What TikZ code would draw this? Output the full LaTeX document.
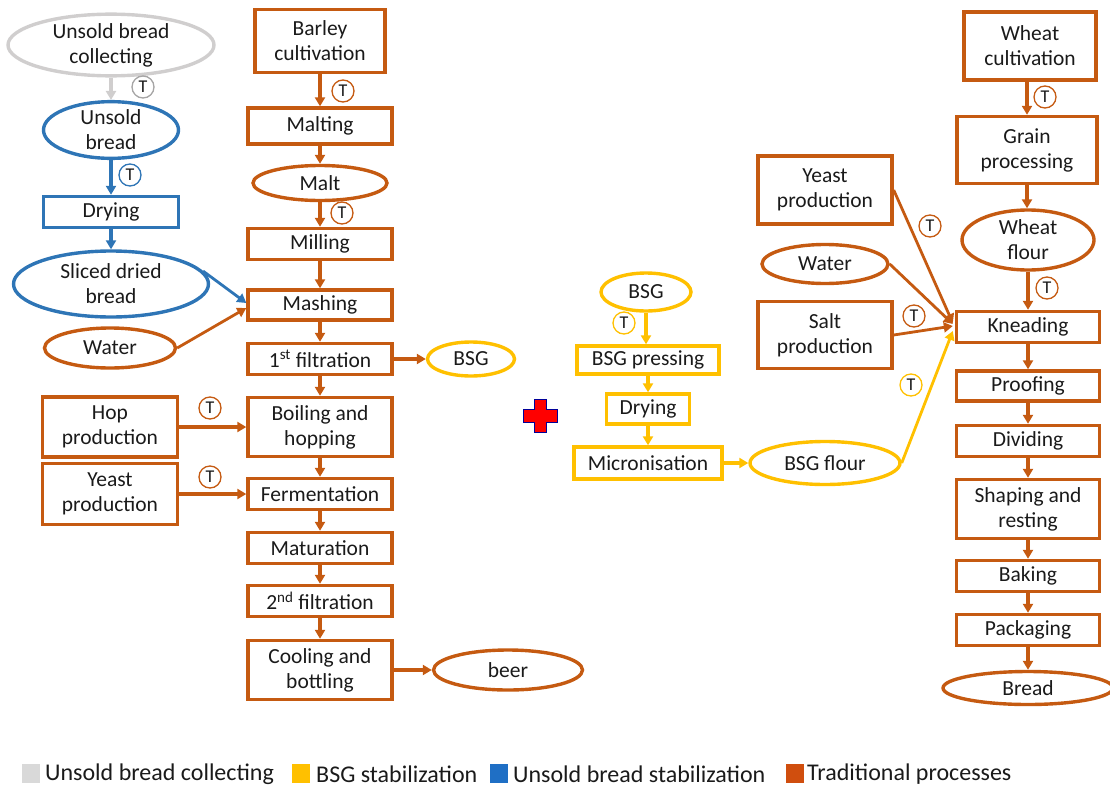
\documentclass[tikz,border=0pt]{standalone}
\usepackage{fontspec}
\setmainfont{Carlito}
\usetikzlibrary{shapes.geometric,arrows.meta,calc}

\definecolor{trad}{HTML}{C55A11}
\definecolor{stab}{HTML}{2E75B6}
\definecolor{bsg}{HTML}{FFC000}
\definecolor{collect}{HTML}{D0CECE}
\definecolor{keygrey}{HTML}{D9D9D9}
\definecolor{keyblue}{HTML}{1F6FC5}
\definecolor{keyorange}{HTML}{D04E0E}
\definecolor{ink}{HTML}{1A1A1A}

\newcommand{\boxfont}{\fontsize{21.5}{25}\selectfont}
\newcommand{\tagfont}{\fontsize{18}{18}\selectfont}
\newcommand{\keyfont}{\fontsize{24}{26}\selectfont}

\tikzset{
  base/.style={line width=3.4pt, inner sep=0pt, align=center, font=\boxfont, text=ink},
  rbox/.style={base, draw, rectangle},
  oval/.style={base, draw, ellipse},
  flow/.style={line width=3.4pt, -{Triangle[length=9pt,width=10pt]}},
  tmark/.style={circle, draw, line width=1.3pt, minimum size=22pt, inner sep=0pt,
                font=\tagfont, text=ink, fill=white},
  keysq/.style={rectangle, minimum width=18pt, minimum height=19pt, inner sep=0pt},
  keytxt/.style={anchor=west, inner sep=0pt, font=\keyfont, text=ink},
  sz/.style 2 args={minimum width=#1pt, minimum height=#2pt}
}

\begin{document}
\begin{tikzpicture}[x=1pt,y=-1pt]
\useasboundingbox (0,0) rectangle (1110,787);

% ---------- unsold bread stabilization ----------
\node[oval, draw=collect, sz={206}{54}] (collectN) at (111,45) {Unsold bread\\collecting};
\node[oval, draw=stab, sz={135}{50}] (ubread) at (111,130) {Unsold\\bread};
\node[rbox, draw=stab, sz={135}{31}] (dryA) at (111,212) {Drying};
\node[oval, draw=stab, sz={195}{66}] (sliced) at (111,284) {Sliced dried\\bread};
\node[oval, draw=trad, sz={131}{40}] (waterA) at (110,348) {Water};
\node[rbox, draw=trad, sz={135}{60}] (hop) at (110,427) {Hop\\production};
\node[rbox, draw=trad, sz={135}{61}] (yeastA) at (110,494) {Yeast\\production};

% ---------- brewing ----------
\node[rbox, draw=trad, sz={130}{63}] (barley) at (320,41) {Barley\\cultivation};
\node[rbox, draw=trad, sz={144}{36}] (malting) at (320,126) {Malting};
\node[oval, draw=trad, sz={134}{35}] (malt) at (320,183) {Malt};
\node[rbox, draw=trad, sz={144}{31}] (milling) at (320,244) {Milling};
\node[rbox, draw=trad, sz={144}{30}] (mashing) at (320,305) {Mashing};
\node[rbox, draw=trad, sz={144}{31}] (filtA) at (320,359) {1\textsuperscript{st} filtration};
\node[rbox, draw=trad, sz={144}{59}] (boil) at (320,427) {Boiling and\\hopping};
\node[rbox, draw=trad, sz={144}{31}] (ferm) at (320,494) {Fermentation};
\node[rbox, draw=trad, sz={144}{31}] (matur) at (320,548) {Maturation};
\node[rbox, draw=trad, sz={144}{31}] (filtB) at (320,601) {2\textsuperscript{nd} filtration};
\node[rbox, draw=trad, sz={144}{59}] (cool) at (320,670) {Cooling and\\bottling};
\node[oval, draw=bsg, sz={87}{34}] (bsgA) at (471,359) {BSG};
\node[oval, draw=trad, sz={149}{40}] (beer) at (508,670) {beer};

% ---------- plus sign ----------
\fill[red, draw=blue!60!black, line width=0.4pt]
  (534,399) -- (546,399) -- (546,409) -- (557,409) -- (557,422) -- (546,422)
  -- (546,432) -- (534,432) -- (534,422) -- (523,422) -- (523,409) -- (534,409) -- cycle;

% ---------- BSG stabilization ----------
\node[oval, draw=bsg, sz={90}{38}] (bsgB) at (646,292) {BSG};
\node[rbox, draw=bsg, sz={142}{28}] (press) at (648,360) {BSG pressing};
\node[rbox, draw=bsg, sz={83}{30}] (dryB) at (648,409) {Drying};
\node[rbox, draw=bsg, sz={148}{32}] (micro) at (648,463) {Micronisation};
\node[oval, draw=bsg, sz={150}{43}] (flour) at (825,463) {BSG flour};

% ---------- bread making ----------
\node[rbox, draw=trad, sz={134}{68}] (yeastB) at (825,190) {Yeast\\production};
\node[oval, draw=trad, sz={126}{39}] (waterB) at (825,264) {Water};
\node[rbox, draw=trad, sz={134}{67}] (salt) at (825,335) {Salt\\production};
\node[rbox, draw=trad, sz={132}{68}] (wheat) at (1030,46) {Wheat\\cultivation};
\node[rbox, draw=trad, sz={140}{67}] (grain) at (1027,150) {Grain\\processing};
\node[oval, draw=trad, sz={132}{60}] (wflour) at (1028,240) {Wheat\\flour};
\node[rbox, draw=trad, sz={143}{31}] (knead) at (1028,327) {Kneading};
\node[rbox, draw=trad, sz={143}{30}] (proof) at (1028,386) {Proofing};
\node[rbox, draw=trad, sz={143}{31}] (divide) at (1028,441) {Dividing};
\node[rbox, draw=trad, sz={143}{59}] (shaping) at (1028,509) {Shaping and\\resting};
\node[rbox, draw=trad, sz={143}{31}] (bake) at (1028,576) {Baking};
\node[rbox, draw=trad, sz={143}{31}] (pack) at (1028,630) {Packaging};
\node[oval, draw=trad, sz={170}{33}] (bread) at (1028,688) {Bread};

% ---------- connectors ----------
\draw[flow, collect] (collectN) -- (ubread);
\draw[flow, stab] (ubread) -- (dryA);
\draw[flow, stab] (dryA) -- (sliced);
\draw[flow, stab, line width=2.8pt] (sliced.8) -- ($(mashing.west)+(0,-2)$);
\draw[flow, trad, line width=2.8pt] (waterA.east) -- ($(mashing.west)+(0,3)$);

\draw[flow, trad] (barley) -- (malting);
\draw[flow, trad] (malting) -- (malt);
\draw[flow, trad] (malt) -- (milling);
\draw[flow, trad] (milling) -- (mashing);
\draw[flow, trad] (mashing) -- (filtA);
\draw[flow, trad] (filtA) -- (boil);
\draw[flow, trad] (boil) -- (ferm);
\draw[flow, trad] (ferm) -- (matur);
\draw[flow, trad] (matur) -- (filtB);
\draw[flow, trad] (filtB) -- (cool);
\draw[flow, trad] (filtA) -- (bsgA);
\draw[flow, trad] (cool) -- (beer);
\draw[flow, trad] (hop) -- (boil);
\draw[flow, trad] (yeastA) -- (ferm);

\draw[flow, bsg] (bsgB) -- (bsgB |- press.north);
\draw[flow, bsg] (press.south -| dryB) -- (dryB);
\draw[flow, bsg] (dryB) -- (micro.north -| dryB);
\draw[flow, bsg] (micro) -- (flour);
\draw[flow, bsg, line width=2.8pt] (flour.east) -- ($(knead.west)+(-2,4)$);

\draw[flow, trad, line width=2.8pt] (yeastB.east) -- ($(knead.west)+(-2,-4)$);
\draw[flow, trad, line width=2.8pt] (waterB.east) -- ($(knead.west)+(-2,-3)$);
\draw[flow, trad, line width=2.8pt] (salt.east) -- ($(knead.west)+(-2,-1)$);

\draw[flow, trad] (wheat.south -| grain) -- (grain);
\draw[flow, trad] (grain) -- (grain.south |- wflour.north);
\draw[flow, trad] (wflour) -- (knead);
\draw[flow, trad] (knead) -- (proof);
\draw[flow, trad] (proof) -- (divide);
\draw[flow, trad] (divide) -- (shaping);
\draw[flow, trad] (shaping) -- (bake);
\draw[flow, trad] (bake) -- (pack);
\draw[flow, trad] (pack) -- (bread);

% ---------- transport marks ----------
\node[tmark, draw=collect!80!black] (tA) at (143,87) {T};
\node[tmark, draw=stab] (tB) at (130,175) {T};
\node[tmark, draw=trad] (tC) at (343,91) {T};
\node[tmark, draw=trad] (tD) at (342,213) {T};
\node[tmark, draw=trad] (tE) at (210,408) {T};
\node[tmark, draw=trad] (tF) at (210,477) {T};
\node[tmark, draw=bsg] (tG) at (624,323) {T};
\node[tmark, draw=trad] (tH) at (930,226) {T};
\node[tmark, draw=trad] (tI) at (1045,97) {T};
\node[tmark, draw=trad] (tJ) at (1047,288) {T};
\node[tmark, draw=trad] (tK) at (914,316) {T};
\node[tmark, draw=bsg] (tL) at (911,385) {T};

% ---------- legend ----------
\node[keysq, fill=keygrey] (kA) at (31,773) {};
\node[keytxt] (kAt) at (45,774) {Unsold bread collecting};
\node[keysq, fill=bsg] (kB) at (301,773) {};
\node[keytxt] (kBt) at (316,774) {BSG stabilization};
\node[keysq, fill=keyblue] (kC) at (499,773) {};
\node[keytxt] (kCt) at (513,774) {Unsold bread stabilization};
\node[keysq, fill=keyorange] (kD) at (795,773) {};
\node[keytxt] (kDt) at (807,774) {Traditional processes};
\end{tikzpicture}
\end{document}
